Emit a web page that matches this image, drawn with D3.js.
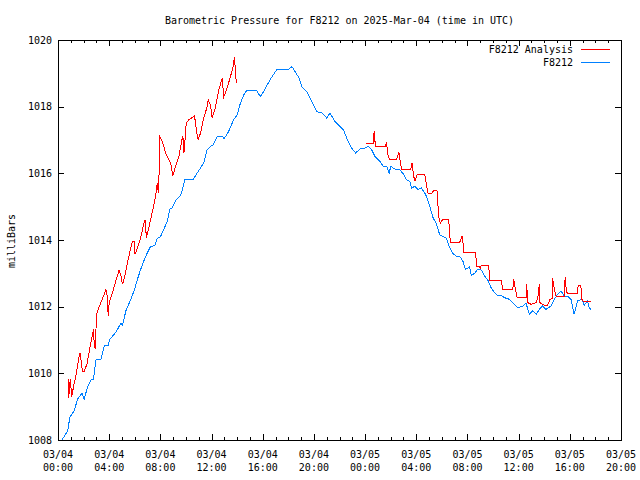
<!DOCTYPE html>
<html><head><meta charset="utf-8">
<script src="https://cdn.jsdelivr.net/npm/d3@7"></script>
<style>
body{margin:0;background:#fff}
svg{display:block}
text{font-family:"DejaVu Sans Mono","Liberation Mono",monospace;font-size:10px;fill:#000}
</style>
</head><body><svg id="c" width="640" height="480"></svg>
<script>
// Hours since 2025-03-04 00:00 UTC
const stationHours = [0.31,0.76,0.93,1.27,1.53,1.87,2.05,2.31,2.57,2.78,2.96,3.35,3.61,3.92,4.05,4.52,4.91,5.04,5.30,5.69,5.94,6.21,6.46,6.85,7.24,7.55,7.76,8.02,8.54,8.75,8.93,9.19,9.58,9.76,9.91,10.59,10.88,11.39,11.66,11.92,12.13,12.44,12.85,12.97,13.34,13.73,14.00,14.25,14.51,14.77,15.50,15.81,16.07,16.59,17.11,18.01,18.28,18.54,18.85,19.06,19.45,19.70,20.23,20.62,21.00,21.26,21.65,22.04,22.30,22.56,22.95,23.26,23.60,23.99,24.24,24.51,24.77,25.16,25.41,25.72,25.88,26.01,26.32,26.71,26.97,27.24,27.49,27.63,27.88,28.14,28.40,28.66,28.79,29.05,29.31,29.57,29.83,30.09,30.35,30.61,30.86,31.13,31.39,31.64,31.85,32.16,32.30,32.55,32.81,33.08,33.33,33.59,33.85,34.11,34.37,34.63,34.89,35.28,35.67,35.93,36.32,36.58,36.84,37.10,37.36,37.62,37.87,38.14,38.53,38.79,39.04,39.31,39.56,39.82,40.09,40.34,40.60,40.94,41.12,41.38,41.51,41.64];
const stationValues = [1008.00,1008.28,1008.69,1008.88,1009.23,1009.40,1009.23,1009.59,1009.80,1009.83,1010.40,1010.42,1010.82,1010.84,1011.02,1011.23,1011.50,1011.44,1011.87,1012.22,1012.47,1012.82,1013.12,1013.51,1013.81,1013.83,1014.04,1014.11,1014.56,1014.93,1014.96,1015.18,1015.33,1015.56,1015.83,1015.83,1016.01,1016.31,1016.71,1016.81,1016.86,1017.11,1017.11,1017.03,1017.26,1017.61,1017.75,1018.10,1018.35,1018.50,1018.50,1018.30,1018.45,1018.82,1019.12,1019.12,1019.20,1019.05,1018.85,1018.60,1018.45,1018.25,1017.85,1017.81,1017.66,1017.81,1017.55,1017.40,1017.31,1017.06,1016.76,1016.61,1016.73,1016.76,1016.81,1016.71,1016.51,1016.36,1016.21,1016.19,1016.01,1016.21,1016.13,1016.11,1015.99,1015.81,1015.76,1015.56,1015.61,1015.51,1015.56,1015.41,1015.31,1015.01,1014.67,1014.49,1014.16,1014.11,1014.06,1013.77,1013.60,1013.51,1013.51,1013.37,1013.12,1013.19,1012.94,1013.00,1013.12,1013.10,1012.92,1012.80,1012.57,1012.42,1012.32,1012.34,1012.27,1012.22,1012.07,1011.97,1012.02,1012.10,1011.77,1011.87,1011.77,1011.92,1012.02,1011.92,1012.02,1012.22,1012.37,1012.47,1012.32,1012.32,1012.22,1011.77,1012.17,1012.22,1012.04,1012.17,1011.97,1011.92];

const analysisHoursA = [0.80,0.83,0.96,1.07,1.22,1.40,1.66,1.74,1.85,1.92,2.05,2.26,2.52,2.70,2.78,2.83,2.90,2.96,3.01,3.09,3.35,3.61,3.74,3.87,3.92,4.00,4.26,4.52,4.77,4.91,5.04,5.16,5.43,5.69,5.82,5.94,6.02,6.21,6.46,6.72,6.80,6.91,7.06,7.38,7.63,7.76,7.84,7.89,7.94,8.15,8.41,8.80,8.98,9.19,9.45,9.66,9.76,9.84,9.91,10.02,10.23,10.67,10.88,10.96,11.14,11.39,11.66,11.74,11.92,12.05,12.25,12.44,12.56,12.83,12.96,13.08,13.29,13.47,13.65,13.79,13.86,13.94];
const analysisValuesA = [1009.83,1009.25,1009.83,1009.28,1009.62,1009.92,1010.52,1010.62,1010.22,1010.07,1010.07,1010.27,1010.82,1011.17,1011.32,1010.87,1010.74,1011.22,1011.77,1011.87,1012.12,1012.37,1012.52,1012.27,1011.72,1012.12,1012.42,1012.77,1013.09,1012.94,1012.67,1012.82,1013.32,1013.77,1013.96,1013.96,1013.57,1013.77,1014.07,1014.51,1014.61,1014.07,1014.31,1014.86,1015.31,1015.71,1015.41,1015.83,1017.11,1016.96,1016.61,1016.31,1015.93,1016.21,1016.51,1016.96,1017.13,1016.61,1016.91,1017.51,1017.61,1017.72,1017.13,1017.01,1017.21,1017.66,1018.00,1018.20,1018.05,1017.66,1017.90,1018.25,1018.50,1018.85,1018.30,1018.40,1018.65,1018.90,1019.12,1019.50,1019.10,1018.70];

const analysisHoursB = [24.07,24.63,24.71,24.81,25.55,25.68,25.80,25.93,26.46,26.64,26.77,26.85,27.57,27.67,27.80,27.90,28.06,28.66,28.79,28.92,29.18,29.36,29.62,29.75,29.88,30.09,30.53,30.66,31.39,31.60,31.72,32.63,32.73,32.94,33.00,33.08,33.67,33.72,34.63,34.76,35.15,35.54,35.62,35.75,35.88,36.58,36.63,36.71,36.97,37.36,37.49,37.62,37.67,38.01,38.26,38.45,38.61,38.65,38.79,38.92,39.56,39.64,39.74,39.90,40.60,40.65,40.86,40.94,41.04,41.64];
const analysisValuesB = [1016.91,1016.91,1017.28,1016.79,1016.80,1016.91,1016.51,1016.41,1016.41,1016.64,1016.31,1016.13,1016.13,1016.31,1015.91,1015.76,1015.96,1015.96,1015.66,1015.39,1015.39,1015.48,1015.48,1014.71,1014.51,1014.63,1014.63,1013.93,1013.93,1014.13,1013.63,1013.63,1013.22,1013.22,1013.12,1013.24,1013.24,1012.79,1012.79,1012.52,1012.50,1012.52,1012.82,1012.52,1012.27,1012.27,1012.67,1012.12,1012.07,1012.12,1012.24,1012.67,1012.12,1012.04,1012.04,1012.22,1012.24,1012.87,1012.52,1012.32,1012.32,1012.90,1012.42,1012.40,1012.40,1012.64,1012.64,1012.22,1012.17,1012.17];

const yTickValues = [1008,1010,1012,1014,1016,1018,1020];
const seriesNames = ["F8212 Analysis","F8212"];
const seriesColors = ["#ff0000","#0080ff"];
const titleText = "Barometric Pressure for F8212 on 2025-Mar-04 (time in UTC)";
const yLabelText = "milliBars";

const base = Date.UTC(2025,2,4,0,0);
const toDate = h => new Date(base + h*3600e3);
const zip = (hs, vs) => hs.map((h,i)=>({t:toDate(h), v:vs[i]}));

const L=58, R=621, T=40, B=440;
const svg = d3.select("#c");
const x = d3.scaleUtc().domain([new Date(base), new Date(Date.UTC(2025,2,5,20))]).range([L,R]);
const y = d3.scaleLinear().domain([1008,1020]).range([B,T]);

const g = svg.append("g").attr("shape-rendering","crispEdges");
const px = v => Math.round(v)+0.5;

// minor x ticks
const minors = x.ticks(d3.utcHour.every(1));
minors.forEach(d=>{
  const xx = px(x(d));
  g.append("line").attr("x1",xx).attr("x2",xx).attr("y1",B).attr("y2",B-3).attr("stroke","#000");
  g.append("line").attr("x1",xx).attr("x2",xx).attr("y1",T).attr("y2",T+3).attr("stroke","#000");
});
const majors = x.ticks(d3.utcHour.every(4));
const fmtD = d3.utcFormat("%m/%d"), fmtT = d3.utcFormat("%H:%M");
majors.forEach(d=>{
  const xx = px(x(d));
  g.append("line").attr("x1",xx).attr("x2",xx).attr("y1",B).attr("y2",B-6).attr("stroke","#000");
  g.append("line").attr("x1",xx).attr("x2",xx).attr("y1",T).attr("y2",T+6).attr("stroke","#000");
  svg.append("text").attr("x",x(d)).attr("y",458).attr("text-anchor","middle").text(fmtD(d));
  svg.append("text").attr("x",x(d)).attr("y",471).attr("text-anchor","middle").text(fmtT(d));
});
yTickValues.forEach(v=>{
  const yy = px(y(v));
  g.append("line").attr("x1",L).attr("x2",L+6).attr("y1",yy).attr("y2",yy).attr("stroke","#000");
  g.append("line").attr("x1",R).attr("x2",R-6).attr("y1",yy).attr("y2",yy).attr("stroke","#000");
  svg.append("text").attr("x",52).attr("y",y(v)+3.5).attr("text-anchor","end").text(v);
});
g.append("rect").attr("x",L+0.5).attr("y",T+0.5).attr("width",R-L).attr("height",B-T)
  .attr("fill","none").attr("stroke","#000");

const line = d3.line().x(d=>x(d.t)).y(d=>y(d.v));
const lines = svg.append("g").attr("shape-rendering","crispEdges").attr("fill","none").attr("stroke-width",1);
lines.append("path").attr("d",line(zip(stationHours,stationValues))).attr("stroke",seriesColors[1]);
lines.append("path").attr("d",line(zip(analysisHoursA,analysisValuesA))).attr("stroke",seriesColors[0]);
lines.append("path").attr("d",line(zip(analysisHoursB,analysisValuesB))).attr("stroke",seriesColors[0]);

// title & labels
svg.append("text").attr("x",(L+R)/2).attr("y",24).attr("text-anchor","middle").text(titleText);
svg.append("text").attr("transform","translate(15,241) rotate(-90)").attr("text-anchor","middle").text(yLabelText);

// legend
seriesNames.forEach((n,i)=>{
  const yy = 49 + i*13;
  svg.append("text").attr("x",573).attr("y",yy+3.5).attr("text-anchor","end").text(n);
  lines.append("line").attr("x1",581).attr("x2",610).attr("y1",px(yy)).attr("y2",px(yy)).attr("stroke",seriesColors[i]);
});
</script>
</body></html>
